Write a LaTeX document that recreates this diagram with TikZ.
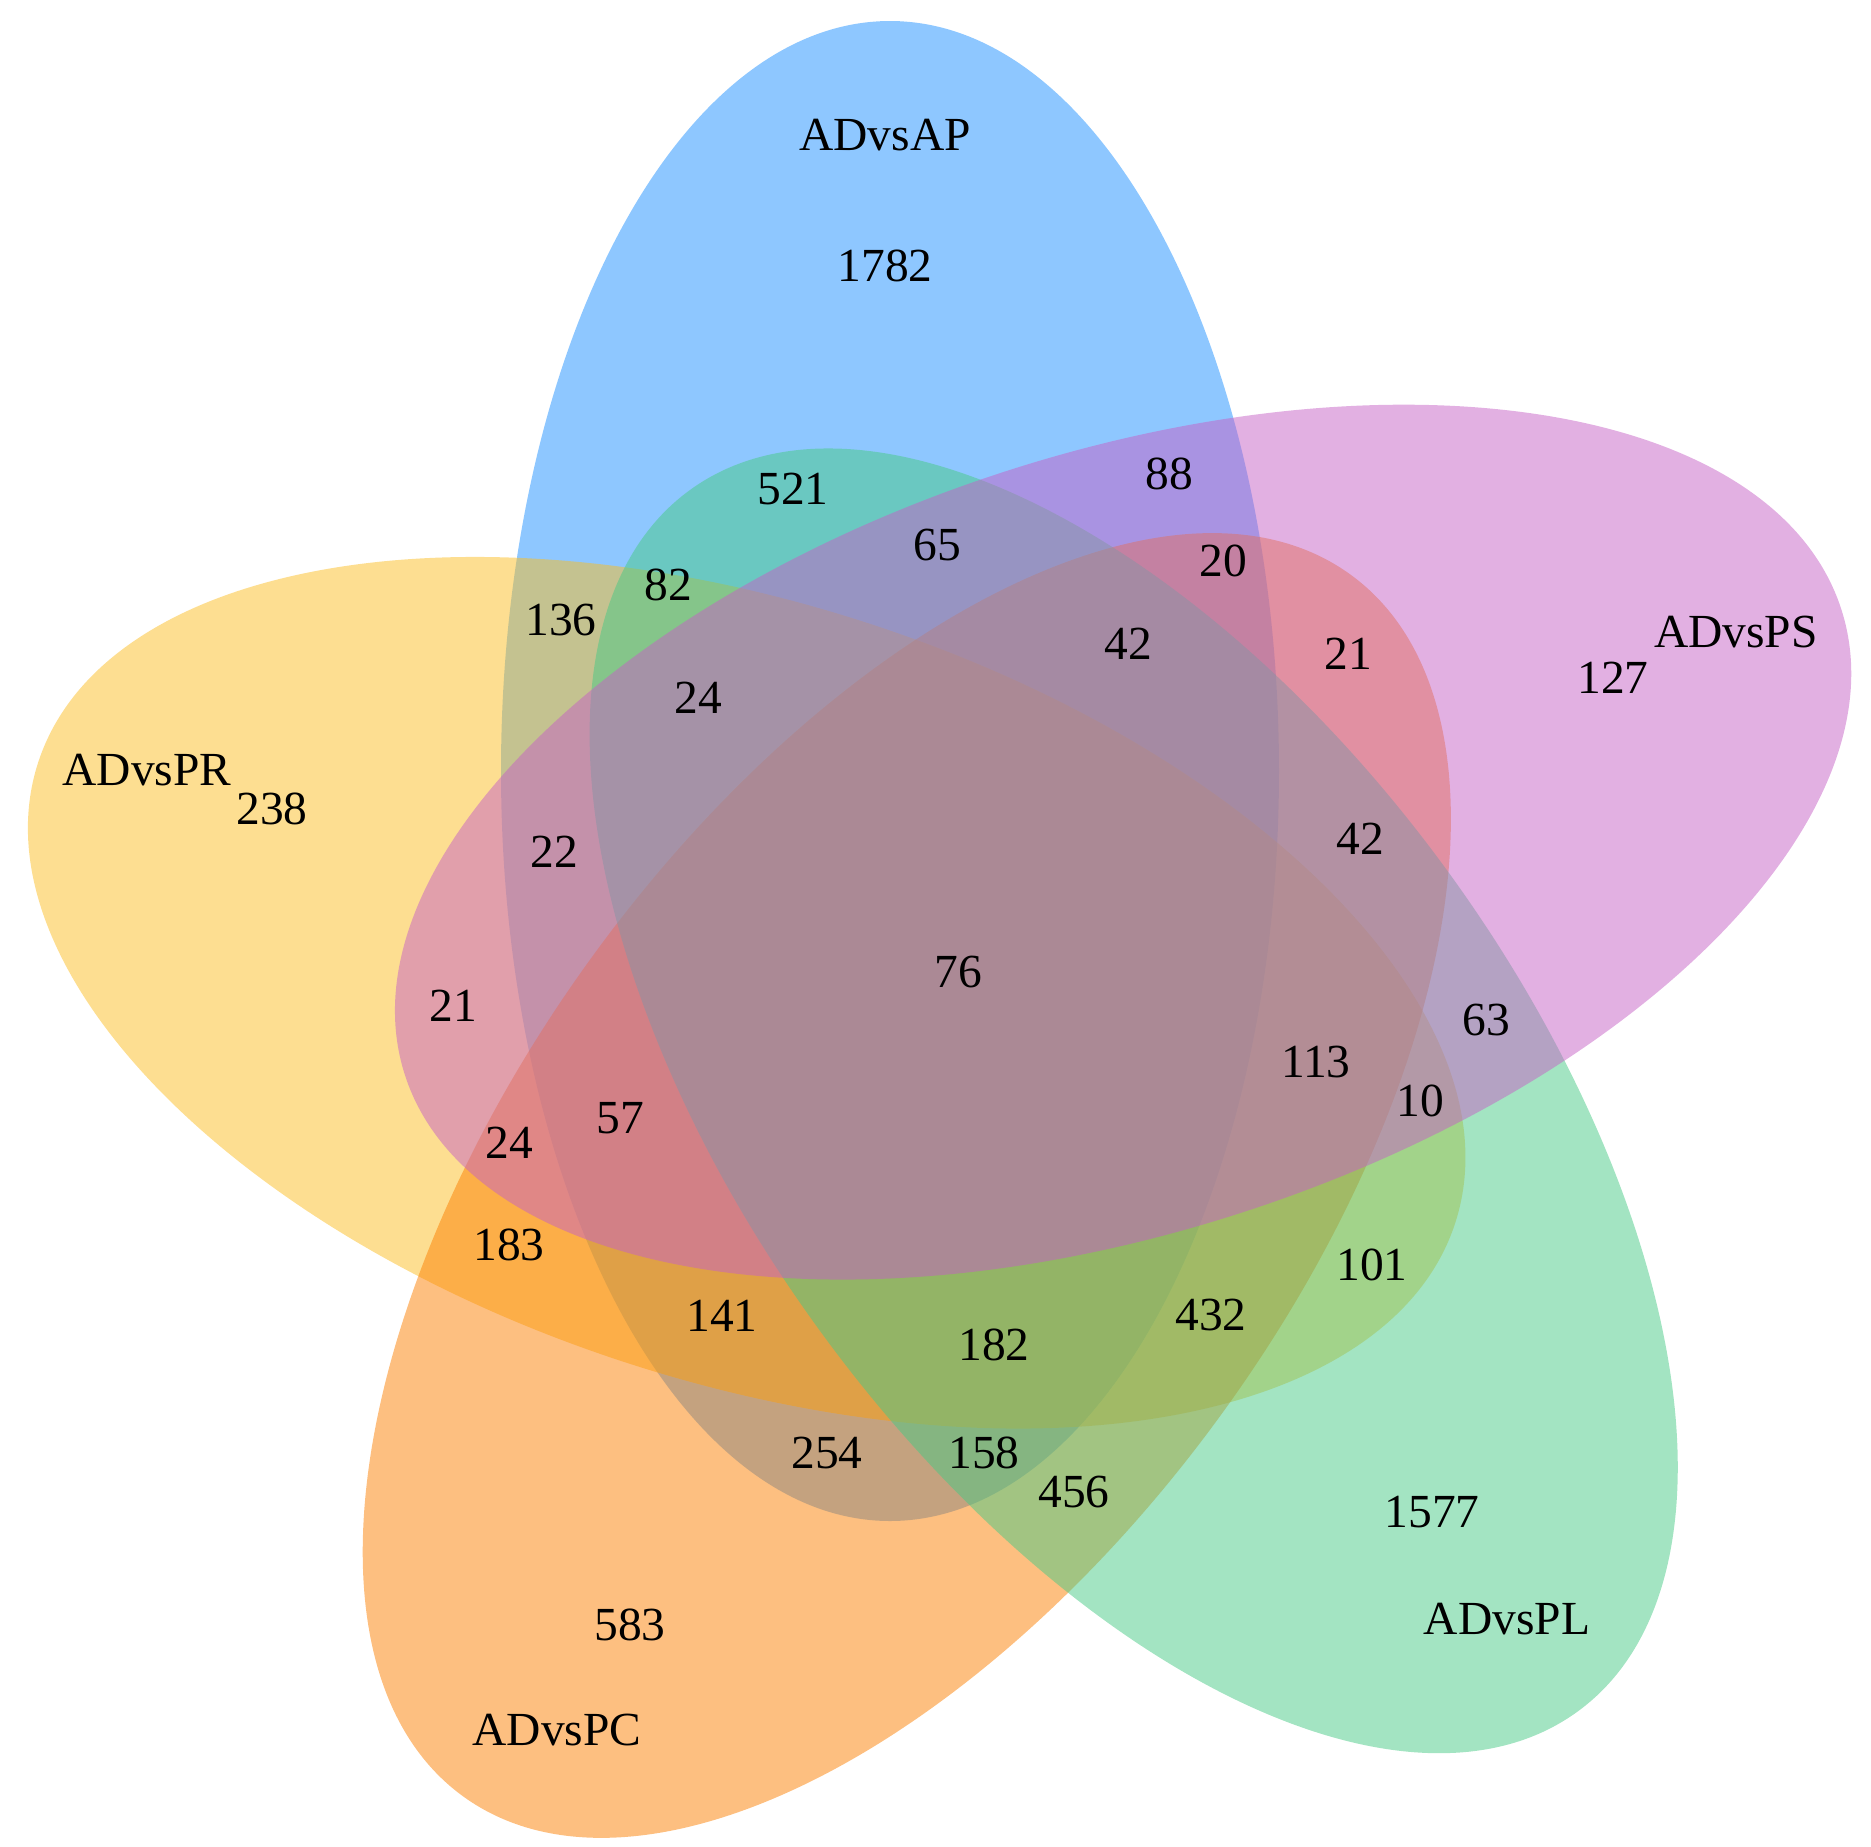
\documentclass[tikz,border=0pt]{standalone}
\usepackage{fontspec}
\setmainfont{Liberation Serif}

\definecolor{apblue}{RGB}{30,144,255}
\definecolor{prgold}{RGB}{251,189,35}
\definecolor{pcorange}{RGB}{251,127,1}
\definecolor{plgreen}{RGB}{71,201,133}
\definecolor{psorchid}{RGB}{197,97,197}

\tikzset{
  set/.style={fill=#1, fill opacity=0.5},
  num/.style={inner sep=0pt, font=\fontsize{13.5}{16}\selectfont}
}

\begin{document}
\begin{tikzpicture}[x=0.01cm, y=-0.01cm]
\useasboundingbox (0,0) rectangle (1871,1847);

% the five sets: the blue one turned round the middle
\begin{scope}[shift={(962,987)}]
\foreach \ang/\col/\ox/\oy/\len in {0/apblue/-72/-216/750, 72/prgold/-72/-203/745,
    144/pcorange/-72/-193/755, -144/plgreen/-72/-193/755, -72/psorchid/-88/-198/755}
  \fill[set=\col, rotate=\ang] (\ox,\oy) ellipse (389 and \len);
\end{scope}

% set names
\node[num] (ap) at (885,135) {ADvsAP};
\node[num] (ps) at (1736,632) {ADvsPS};
\node[num] (pr) at (147,770) {ADvsPR};
\node[num] (pl) at (1507,1619) {ADvsPL};
\node[num] (pc) at (557,1730) {ADvsPC};

% counts
\node[num] (n1782) at (885,266) {1782};
\node[num] (n521) at (793,489) {521};
\node[num] (n88) at (1169,474) {88};
\node[num] (n65) at (937,545) {65};
\node[num] (n20) at (1223,561) {20};
\node[num] (n82) at (668,585) {82};
\node[num] (n136) at (561,620) {136};
\node[num] (n42a) at (1128,644) {42};
\node[num] (n21a) at (1348,654) {21};
\node[num] (n127) at (1613,678) {127};
\node[num] (n24a) at (698,698) {24};
\node[num] (n238) at (272,809) {238};
\node[num] (n22) at (554,852) {22};
\node[num] (n42b) at (1360,839) {42};
\node[num] (n21b) at (453,1006) {21};
\node[num] (n76) at (958,972) {76};
\node[num] (n63) at (1486,1020) {63};
\node[num] (n113) at (1316,1062) {113};
\node[num] (n10) at (1420,1101) {10};
\node[num] (n57) at (620,1118) {57};
\node[num] (n24b) at (509,1143) {24};
\node[num] (n183) at (509,1245) {183};
\node[num] (n101) at (1372,1265) {101};
\node[num] (n141) at (722,1316) {141};
\node[num] (n182) at (994,1345) {182};
\node[num] (n432) at (1211,1315) {432};
\node[num] (n254) at (827,1453) {254};
\node[num] (n158) at (984,1453) {158};
\node[num] (n456) at (1074,1492) {456};
\node[num] (n1577) at (1432,1512) {1577};
\node[num] (n583) at (630,1625) {583};

\end{tikzpicture}
\end{document}
